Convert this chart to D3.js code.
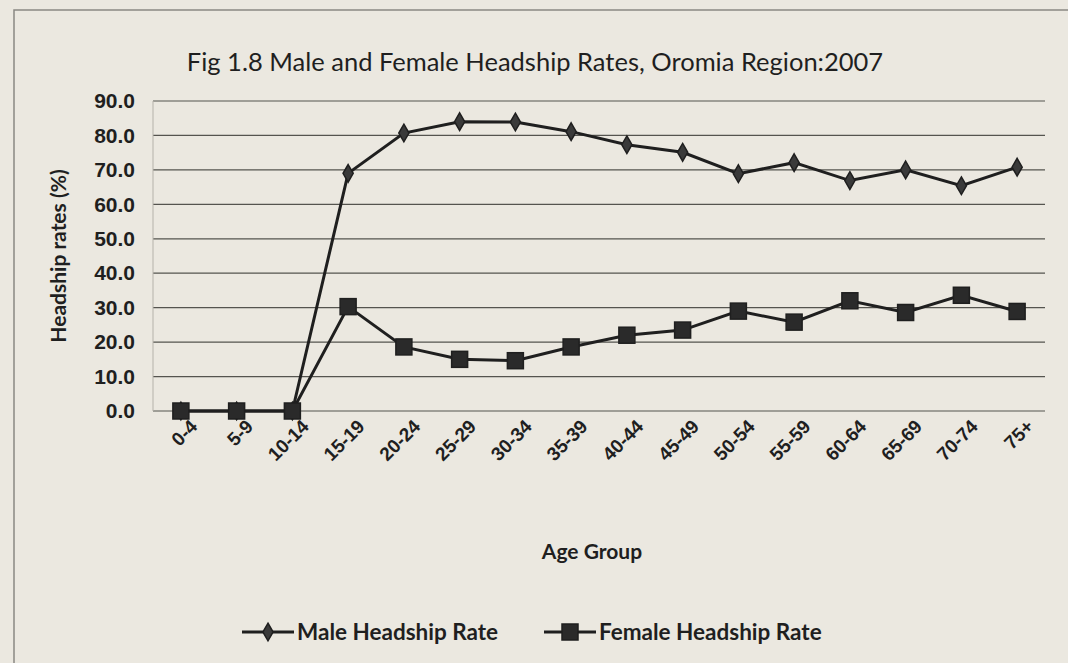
<!DOCTYPE html>
<html>
<head>
<meta charset="utf-8">
<script src="https://cdn.jsdelivr.net/npm/d3@7"></script>
<style>
  body { margin: 0; background: #ebe8e0; }
  svg { display: block; font-family: Lato, "Open Sans", sans-serif; }
</style>
</head>
<body>
<div id="chart"></div>
<script>
// Age groups and headship rates (%)
var ageGroups = ["0-4", "5-9", "10-14", "15-19", "20-24", "25-29", "30-34", "35-39",
                 "40-44", "45-49", "50-54", "55-59", "60-64", "65-69", "70-74", "75+"];
var maleRate = [0, 0, 0, 69.0, 80.7, 84.0, 83.9, 81.1, 77.3, 75.1, 68.9, 72.1, 66.9, 70.0, 65.4, 70.8];
var femaleRate = [0, 0, 0, 30.3, 18.6, 15.0, 14.6, 18.6, 22.0, 23.5, 29.0, 25.8, 32.0, 28.6, 33.6, 28.9];
var yTicks = [0, 10, 20, 30, 40, 50, 60, 70, 80, 90];

var W = 1068, H = 663;
var margin = { top: 101, right: 23, bottom: 252, left: 153 };
var width = W - margin.left - margin.right,
    height = H - margin.top - margin.bottom;

var ink = "#1f1f1f";

var svg = d3.select("#chart").append("svg")
  .attr("width", W).attr("height", H);

svg.append("rect").attr("width", W).attr("height", H).attr("fill", "#ebe8e0");

// chart area frame (only left and top edges are in view)
svg.append("path")
  .attr("d", "M14," + (H + 5) + "V10H" + (W + 5))
  .attr("fill", "none").attr("stroke", "#8a8882").attr("stroke-width", 1.5);

// title
svg.append("text")
  .attr("x", 535).attr("y", 71)
  .attr("text-anchor", "middle")
  .style("font-size", "25.5px")
  .attr("fill", ink)
  .text("Fig 1.8 Male and Female Headship Rates, Oromia Region:2007");

var g = svg.append("g").attr("transform", "translate(" + margin.left + "," + margin.top + ")");

var x = d3.scaleBand().domain(ageGroups).range([0, width]);
var y = d3.scaleLinear().domain([0, 90]).range([height, 0]);

// gridlines
g.append("g")
  .selectAll("line").data(yTicks).enter().append("line")
  .attr("x1", 0).attr("x2", width)
  .attr("y1", d => y(d)).attr("y2", d => y(d))
  .attr("stroke", "#55544f").attr("stroke-width", 1.2);

// faint value axis line
g.append("line").attr("x1", 0).attr("x2", 0).attr("y1", 0).attr("y2", height)
  .attr("stroke", "#b5b2aa").attr("stroke-width", 1);

// y axis labels
var yAxis = g.append("g")
  .call(d3.axisLeft(y).tickValues(yTicks).tickFormat(d3.format(".1f")).tickSize(0).tickPadding(18));
yAxis.select(".domain").remove();
yAxis.selectAll("text")
  .style("font-size", "21px").style("font-weight", "bold")
  .attr("fill", ink);

// x axis labels, rotated
var xAxis = g.append("g")
  .attr("transform", "translate(0," + height + ")")
  .call(d3.axisBottom(x).tickSize(0).tickPadding(0));
xAxis.select(".domain").remove();
xAxis.selectAll("text")
  .style("font-size", "19px").style("font-weight", "bold")
  .attr("fill", ink)
  .attr("text-anchor", "end")
  .attr("dy", "0.35em")
  .attr("transform", "translate(13,12) rotate(-45)");

// axis titles
svg.append("text")
  .attr("transform", "translate(66," + (margin.top + height / 2) + ") rotate(-90)")
  .attr("text-anchor", "middle")
  .style("font-size", "21px").style("font-weight", "bold")
  .attr("fill", ink)
  .text("Headship rates (%)");

svg.append("text")
  .attr("x", 592).attr("y", 559)
  .attr("text-anchor", "middle")
  .style("font-size", "21px").style("font-weight", "bold")
  .attr("fill", ink)
  .text("Age Group");

var line = d3.line()
  .x((d, i) => x(ageGroups[i]) + x.bandwidth() / 2)
  .y(d => y(d));

var diamond = d3.symbol().type(d3.symbolDiamond).size(90);

function drawMarker(sel, kind) {
  if (kind === "square") {
    sel.append("rect")
      .attr("x", -8).attr("y", -8).attr("width", 16).attr("height", 16)
      .attr("fill", "#2a2a2a").attr("stroke", ink).attr("stroke-width", 1.5);
  } else {
    sel.append("path").attr("d", diamond)
      .attr("fill", "#3a3a3a").attr("stroke", ink).attr("stroke-width", 1.5);
  }
}

// male series
g.append("path").datum(maleRate)
  .attr("d", line).attr("fill", "none")
  .attr("stroke", ink).attr("stroke-width", 3);
g.selectAll(".male").data(maleRate).enter().append("g")
  .attr("class", "male")
  .attr("transform", (d, i) => "translate(" + (x(ageGroups[i]) + x.bandwidth() / 2) + "," + y(d) + ")")
  .each(function () { drawMarker(d3.select(this), "diamond"); });

// female series
g.append("path").datum(femaleRate)
  .attr("d", line).attr("fill", "none")
  .attr("stroke", ink).attr("stroke-width", 3);
g.selectAll(".female").data(femaleRate).enter().append("g")
  .attr("class", "female")
  .attr("transform", (d, i) => "translate(" + (x(ageGroups[i]) + x.bandwidth() / 2) + "," + y(d) + ")")
  .each(function () { drawMarker(d3.select(this), "square"); });

// legend
var legendItems = [
  { name: "Male Headship Rate", kind: "diamond", x: 242 },
  { name: "Female Headship Rate", kind: "square", x: 544 }
];
var legend = svg.append("g").attr("transform", "translate(0,632)");
legendItems.forEach(function (item) {
  var lg = legend.append("g").attr("transform", "translate(" + item.x + ",0)");
  lg.append("line").attr("x1", 0).attr("x2", 52).attr("y1", 0).attr("y2", 0)
    .attr("stroke", ink).attr("stroke-width", 3);
  drawMarker(lg.append("g").attr("transform", "translate(26,0)"), item.kind);
  lg.append("text").attr("x", 55).attr("y", 0).attr("dy", "0.35em")
    .style("font-size", "22.5px").style("font-weight", "bold")
    .attr("fill", ink)
    .text(item.name);
});
</script>
</body>
</html>
